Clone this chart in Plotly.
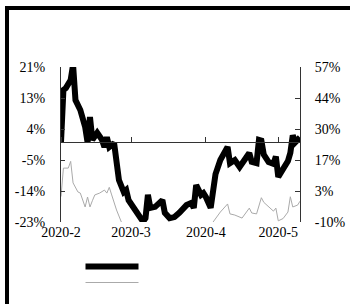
import numpy as np
import plotly.graph_objects as go

# ---- data ----
black_dates = [
    "2020-02-01", "2020-02-02", "2020-02-03", "2020-02-04", "2020-02-05", "2020-02-06",
    "2020-02-07", "2020-02-09", "2020-02-11", "2020-02-12", "2020-02-13", "2020-02-14",
    "2020-02-15", "2020-02-16", "2020-02-18", "2020-02-19", "2020-02-20", "2020-02-21",
    "2020-02-23", "2020-02-24", "2020-02-25", "2020-02-27", "2020-02-28", "2020-02-29",
    "2020-03-03", "2020-03-06", "2020-03-07", "2020-03-08", "2020-03-09", "2020-03-11",
    "2020-03-14", "2020-03-15", "2020-03-17", "2020-03-19", "2020-03-21", "2020-03-22",
    "2020-03-24", "2020-03-26", "2020-03-27", "2020-03-28", "2020-03-30", "2020-03-31",
    "2020-04-01", "2020-04-03", "2020-04-04", "2020-04-05", "2020-04-07", "2020-04-09",
    "2020-04-10", "2020-04-11", "2020-04-13", "2020-04-15", "2020-04-17", "2020-04-19",
    "2020-04-20", "2020-04-22", "2020-04-23", "2020-04-24", "2020-04-25", "2020-04-27",
    "2020-04-29", "2020-04-30", "2020-05-01", "2020-05-03", "2020-05-05", "2020-05-06",
    "2020-05-07", "2020-05-08", "2020-05-09", "2020-05-10",
]
black_values = [
    0.0, 14.9, 15.4, 16.9, 17.7, 22.0,
    12.0, 9.2, 4.4, 0.0, 7.2, 0.7,
    1.5, 2.7, 0.7, -1.3, 1.5, -1.3,
    -0.2, -5.0, -10.7, -14.1, -13.5, -16.4,
    -19.2, -22.5, -21.5, -14.9, -18.6, -18.3,
    -16.4, -20.0, -21.5, -21.2, -20.0, -19.2,
    -17.8, -17.2, -18.6, -12.1, -14.9, -14.4,
    -15.5, -18.6, -14.0, -9.0, -5.0, -2.7,
    -1.3, -5.9, -5.0, -7.0, -5.0, -3.0,
    -5.5, -5.9, 0.7, 0.5, -3.5, -5.6,
    -6.1, -4.0, -9.8, -7.8, -5.3, -3.0,
    2.0, 0.0, 0.5, 1.4,
]

gray_dates = [
    "2020-02-01", "2020-02-02", "2020-02-04", "2020-02-05", "2020-02-06", "2020-02-08",
    "2020-02-09", "2020-02-11", "2020-02-12", "2020-02-13", "2020-02-14", "2020-02-15",
    "2020-02-17", "2020-02-19", "2020-02-20", "2020-02-21", "2020-02-22", "2020-02-24",
    "2020-02-26", "2020-02-28", "2020-03-05", "2020-03-12", "2020-03-20", "2020-03-28",
    "2020-03-31", "2020-04-02", "2020-04-04", "2020-04-07", "2020-04-10", "2020-04-11",
    "2020-04-13", "2020-04-16", "2020-04-19", "2020-04-20", "2020-04-22", "2020-04-24",
    "2020-04-25", "2020-04-27", "2020-04-29", "2020-04-30", "2020-05-01", "2020-05-03",
    "2020-05-05", "2020-05-06", "2020-05-07", "2020-05-09", "2020-05-10",
]
gray_values = [
    1.0, 13.3, 13.3, 16.2, 6.9, 3.0,
    2.5, -3.5, 0.8, -3.5, -0.8, 1.7,
    2.5, 3.8, 2.5, 5.0, 1.7, -4.8,
    -10.0, -13.0, -20.0, -24.0, -22.0, -10.5,
    -15.0, -14.0, -10.0, -5.7, -2.2, -6.5,
    -7.0, -8.3, -4.0, -6.1, -6.5, 0.5,
    -1.5, -3.5, -5.3, -4.0, -9.5, -8.5,
    -5.7, 0.9, -3.5, -2.7, -1.0,
]

left_min, left_max = -22.6, 21.4
right_min, right_max = -10.0, 57.0
x_start, x_end = "2020-02-01", "2020-05-10"

left_ticks = np.linspace(left_min, left_max, 6)
right_ticks = np.linspace(right_min, right_max, 6)
left_text = [f"{v:.0f}%" for v in left_ticks]
right_text = [f"{v:.0f}%" for v in right_ticks]

FONT = "Liberation Serif"
AX = "#333333"

W, H = 350, 304
ML, MR, MT, MB = 61, 50, 67, 82
PW, PH = W - ML - MR, H - MT - MB


def px_x(px):
    return (px - ML) / PW


def px_y(py):
    return (H - MB - py) / PH


fig = go.Figure()
fig.add_trace(go.Scatter(
    x=black_dates, y=black_values, mode="lines", name="",
    line=dict(color="black", width=6), yaxis="y", xaxis="x", legend="legend",
))
fig.add_trace(go.Scatter(
    x=gray_dates, y=gray_values, mode="lines", name="",
    line=dict(color="#aaaaaa", width=1), yaxis="y2", xaxis="x", legend="legend2",
))
# helper axis carrying the tick marks on the zero line
fig.add_trace(go.Scatter(
    x=[], y=[], mode="lines", xaxis="x2", yaxis="y", showlegend=False, hoverinfo="skip",
))

zero_pos = (0 - left_min) / (left_max - left_min)

leg_common = dict(
    orientation="v", xanchor="left", yanchor="top",
    bgcolor="rgba(0,0,0,0)", font=dict(size=10), itemwidth=53,
)

fig.update_layout(
    width=W, height=H,
    margin=dict(l=ML, r=MR, t=MT, b=MB, autoexpand=False),
    paper_bgcolor="white", plot_bgcolor="white",
    font=dict(family=FONT, size=14, color="black"),
    xaxis=dict(
        type="date", range=[x_start, x_end],
        tick0="2020-02-01", dtick="M1", tickformat="%Y-%-m",
        showgrid=False, zeroline=False, showline=False, ticks="",
        tickfont=dict(family=FONT, size=14, color="black"),
        automargin=False,
    ),
    xaxis2=dict(
        type="date", range=[x_start, x_end], overlaying="x", anchor="free",
        position=zero_pos, side="top",
        tick0="2020-02-01", dtick="M1",
        showgrid=False, zeroline=False, showline=True, linecolor=AX, linewidth=1,
        ticks="outside", ticklen=5, tickcolor=AX, showticklabels=False,
        automargin=False,
    ),
    yaxis=dict(
        range=[left_min, left_max], tickvals=left_ticks, ticktext=left_text,
        showgrid=False, zeroline=False, showline=True, linecolor=AX, linewidth=1,
        ticks="inside", ticklen=4, tickcolor=AX, ticklabelstandoff=12,
        tickfont=dict(family=FONT, size=14, color="black"),
        automargin=False,
    ),
    yaxis2=dict(
        range=[right_min, right_max], tickvals=right_ticks, ticktext=right_text,
        overlaying="y", side="right",
        showgrid=False, zeroline=False, showline=True, linecolor=AX, linewidth=1,
        ticks="inside", ticklen=5, tickcolor=AX, ticklabelstandoff=11,
        tickfont=dict(family=FONT, size=14, color="black"),
        automargin=False,
    ),
    showlegend=True,
    legend=dict(x=px_x(80.5), y=px_y(252), **leg_common),
    legend2=dict(x=px_x(80.5), y=px_y(268), **leg_common),
    shapes=[
        dict(type="line", xref="paper", yref="paper",
             x0=px_x(7), x1=px_x(7), y0=px_y(6), y1=px_y(400),
             line=dict(color="black", width=4)),
        dict(type="line", xref="paper", yref="paper",
             x0=px_x(5), x1=px_x(450), y0=px_y(8), y1=px_y(8),
             line=dict(color="black", width=4)),
    ],
)

fig.write_html(
    "out.html",
    config={"displayModeBar": False},
    post_script="document.body.style.margin='0';",
)
